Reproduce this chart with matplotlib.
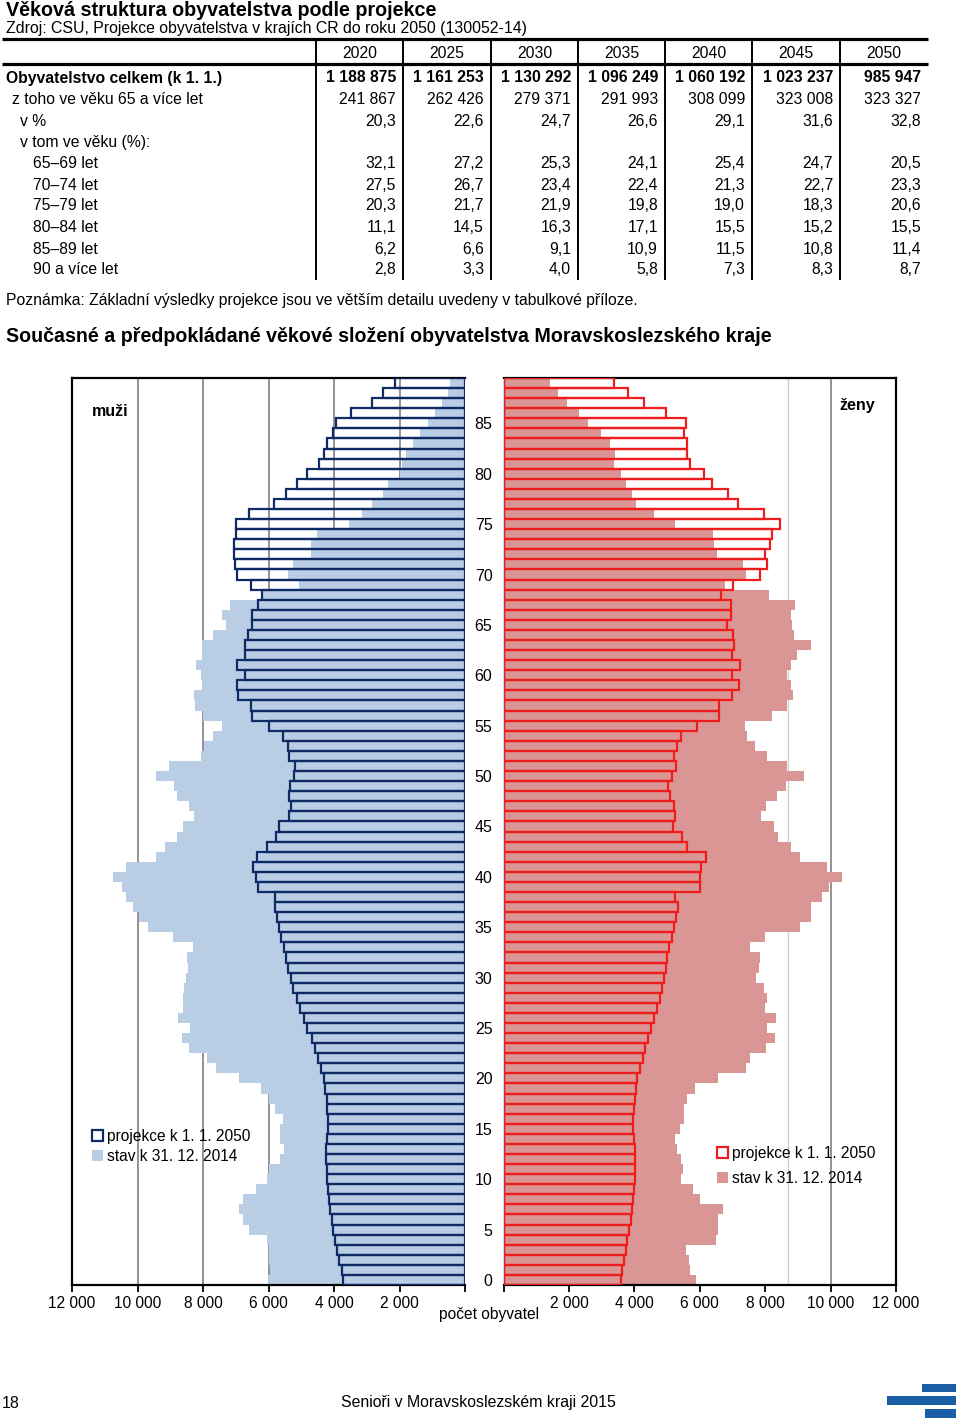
import matplotlib.pyplot as plt
from matplotlib.patches import Patch

plt.rcParams['font.family'] = ['Liberation Sans', 'DejaVu Sans']

# --- tabulka: projekce obyvatelstva ---
years = [2020, 2025, 2030, 2035, 2040, 2045, 2050]
pop_total = [1188875, 1161253, 1130292, 1096249, 1060192, 1023237, 985947]
pop_65plus = [241867, 262426, 279371, 291993, 308099, 323008, 323327]
share_65plus = [20.3, 22.6, 24.7, 26.6, 29.1, 31.6, 32.8]
group_labels = ['65–69 let', '70–74 let', '75–79 let', '80–84 let', '85–89 let', '90 a více let']
group_shares = [
    [32.1, 27.2, 25.3, 24.1, 25.4, 24.7, 20.5],
    [27.5, 26.7, 23.4, 22.4, 21.3, 22.7, 23.3],
    [20.3, 21.7, 21.9, 19.8, 19.0, 18.3, 20.6],
    [11.1, 14.5, 16.3, 17.1, 15.5, 15.2, 15.5],
    [6.2, 6.6, 9.1, 10.9, 11.5, 10.8, 11.4],
    [2.8, 3.3, 4.0, 5.8, 7.3, 8.3, 8.7],
]

# --- pyramida: počet obyvatel podle věku 0..89 ---
ages = list(range(90))
men_2014 = [6030, 5950, 6000, 6000, 6050, 6610, 6790, 6900, 6790, 6380,
            6050, 5970, 5650, 5520, 5650, 5650, 5560, 5800, 5970, 6240,
            6900, 7600, 7880, 8440, 8630, 8390, 8750, 8600, 8600, 8570,
            8530, 8460, 8490, 8310, 8920, 9690, 9940, 10140, 10360, 10480,
            10750, 10360, 9430, 9150, 8800, 8600, 8270, 8420, 8780, 8900,
            9430, 9050, 8070, 7970, 7680, 7410, 7990, 8240, 8290, 8040,
            8060, 8210, 8020, 8020, 7680, 7290, 7430, 7170, 6190, 5080,
            5410, 5260, 4710, 4710, 4530, 3540, 3130, 2850, 2510, 2340,
            2000, 1930, 1810, 1580, 1370, 1140, 920, 690, 510, 460]
men_2050 = [3710, 3760, 3840, 3900, 3960, 4020, 4070, 4120, 4160, 4190,
            4220, 4220, 4240, 4240, 4220, 4190, 4190, 4200, 4220, 4270,
            4320, 4390, 4480, 4580, 4680, 4810, 4910, 5040, 5140, 5240,
            5310, 5390, 5470, 5540, 5630, 5690, 5750, 5790, 5790, 6330,
            6390, 6480, 6360, 6050, 5770, 5680, 5380, 5310, 5370, 5350,
            5220, 5200, 5360, 5410, 5560, 6000, 6490, 6530, 6920, 6970,
            6710, 6960, 6710, 6730, 6630, 6510, 6510, 6310, 6210, 6530,
            6970, 7030, 7060, 7050, 7000, 7000, 6590, 5840, 5480, 5120,
            4810, 4450, 4300, 4220, 4020, 3940, 3490, 2830, 2490, 2130]
women_2014 = [5900, 5700, 5680, 5580, 6500, 6550, 6570, 6720, 6020, 5780,
              5420, 5480, 5440, 5300, 5240, 5400, 5520, 5520, 5610, 5850,
              6550, 7420, 7550, 8030, 8310, 8060, 8340, 8000, 8060, 7960,
              7720, 7810, 7850, 7540, 7980, 9050, 9390, 9410, 9750, 9950,
              10350, 9890, 9050, 8780, 8390, 8270, 7880, 8030, 8370, 8640,
              9180, 8680, 8050, 7690, 7450, 7390, 8200, 8680, 8850, 8800,
              8680, 8780, 8970, 9390, 8880, 8830, 8800, 8900, 8110, 6770,
              7400, 7320, 6530, 6450, 6390, 5250, 4600, 4060, 3920, 3760,
              3600, 3380, 3400, 3250, 2970, 2590, 2300, 1940, 1670, 1430]
women_2050 = [3600, 3630, 3680, 3730, 3790, 3850, 3890, 3930, 3960, 3990,
              4020, 4020, 4020, 4010, 3990, 3970, 3970, 3990, 4020, 4050,
              4090, 4170, 4250, 4340, 4430, 4520, 4600, 4690, 4780, 4840,
              4910, 4960, 5010, 5070, 5140, 5200, 5270, 5350, 5240, 6020,
              6020, 6040, 6190, 5610, 5470, 5180, 5250, 5200, 5090, 5040,
              5160, 5260, 5220, 5290, 5420, 5930, 6600, 6600, 6980, 7210,
              6980, 7240, 6980, 7060, 7030, 6830, 6960, 6960, 6650, 7010,
              7850, 8050, 8000, 8150, 8210, 8440, 7960, 7160, 6850, 6370,
              6140, 5700, 5610, 5610, 5520, 5580, 4960, 4300, 3810, 3380]

x_ticks = [0, 2000, 4000, 6000, 8000, 10000, 12000]
age_ticks = list(range(0, 90, 5))

BLUE_FILL = '#b9cde5'
NAVY = '#0f2b66'
PINK_FILL = '#d99694'
RED = '#ee1c1c'
W, H = 960, 1419
DY = 2  # posun textu dolů (va='center' počítá i s dotahy)


def fmt_int(v):
    return f'{v:,}'.replace(',', ' ')


def fmt_dec(v):
    return f'{v:.1f}'.replace('.', ',')


def fig_box(x0, y0, x1, y1):
    """pixelové souřadnice (shora) -> rect pro add_axes"""
    return [x0 / W, 1 - y1 / H, (x1 - x0) / W, (y1 - y0) / H]


fig = plt.figure(figsize=(W / 100, H / 100), dpi=100)
page = fig.add_axes([0, 0, 1, 1])
page.set_xlim(0, W)
page.set_ylim(H, 0)
page.axis('off')

# nadpis a zdroj
page.text(6, 9 + DY, 'Věková struktura obyvatelstva podle projekce', fontsize=14.2,
          fontweight='bold', va='center')
page.text(6, 27 + DY, 'Zdroj: CSU, Projekce obyvatelstva v krajích CR do roku 2050 (130052-14)',
          fontsize=11.45, va='center')

# tabulka
col_edges = [316, 403, 491, 578, 665, 752, 840, 928]
page.plot([2, 928], [39, 39], color='black', lw=2.3, solid_capstyle='butt')
page.plot([2, 928], [64, 64], color='black', lw=2.3, solid_capstyle='butt')
for x in col_edges[:-1]:
    page.plot([x, x], [40, 279], color='black', lw=1.4)
for i, yr in enumerate(years):
    page.text((col_edges[i] + col_edges[i + 1]) / 2, 52 + DY, str(yr), fontsize=11.3,
              ha='center', va='center')

rows = [('Obyvatelstvo celkem (k 1. 1.)', 6, [fmt_int(v) for v in pop_total], 'bold'),
        ('z toho ve věku 65 a více let', 12, [fmt_int(v) for v in pop_65plus], 'normal'),
        ('v %', 20, [fmt_dec(v) for v in share_65plus], 'normal'),
        ('v tom ve věku (%):', 20, [''] * len(years), 'normal')]
for lab, vals in zip(group_labels, group_shares):
    rows.append((lab, 33, [fmt_dec(v) for v in vals], 'normal'))

row_y = [76, 97, 119, 140, 161, 183, 204, 225, 247, 268]
for (label, indent, cells, weight), y in zip(rows, row_y):
    page.text(indent, y + DY, label, fontsize=11.3, fontweight=weight, va='center')
    for i, c in enumerate(cells):
        page.text(col_edges[i + 1] - 7, y + DY, c, fontsize=11.3, fontweight=weight,
                  ha='right', va='center')

page.text(6, 299 + DY, 'Poznámka: Základní výsledky projekce jsou ve větším detailu uvedeny v tabulkové příloze.',
          fontsize=11.3, va='center')
page.text(6, 335 + DY, 'Současné a předpokládané věkové složení obyvatelstva Moravskoslezského kraje',
          fontsize=14.15, fontweight='bold', va='center')

# pyramida - muži
ax_l = fig.add_axes(fig_box(72, 378, 465, 1285))
ax_r = fig.add_axes(fig_box(503.5, 378, 896, 1285))
for ax in (ax_l, ax_r):
    ax.set_facecolor('none')
    ax.set_ylim(-0.5, 89.5)
    ax.set_xlim(0, 12000)
    ax.set_xticks(x_ticks)
    ax.set_xticklabels([fmt_int(v) if v else '' for v in x_ticks], fontsize=11.2)
    ax.tick_params(axis='x', direction='out', length=5, width=1.3, pad=3)
    for s in ax.spines.values():
        s.set_linewidth(1.6)
        s.set_color('black')

ax_l.invert_xaxis()
for v in x_ticks[1:-1]:
    ax_l.axvline(v, color='#808080', lw=1.2, zorder=1)
ax_l.barh(ages, men_2014, height=1.0, color=BLUE_FILL, zorder=2)
ax_l.barh(ages, men_2050, height=1.0, facecolor='none', edgecolor=NAVY, lw=1.6, zorder=3)
ax_l.spines['right'].set_visible(False)
ax_l.set_yticks([])
ax_l.text(0.05, 0.963, 'muži', transform=ax_l.transAxes, fontsize=11.5,
          fontweight='bold', va='center')

# pyramida - ženy
ax_r.axvline(10000, color='#808080', lw=1.2, zorder=1)
ax_r.axvline(8700, color='#d0d0d0', lw=1.0, zorder=1)
ax_r.barh(ages, women_2014, height=1.0, color=PINK_FILL, zorder=2)
ax_r.barh(ages, women_2050, height=1.0, facecolor='none', edgecolor=RED, lw=1.6, zorder=3)
ax_r.spines['left'].set_linewidth(1.0)
ax_r.spines['left'].set_color('#404040')
ax_r.set_yticks(age_ticks)
ax_r.set_yticklabels([str(a) for a in age_ticks], fontsize=11.5)
ax_r.tick_params(axis='y', length=0, pad=8)
ax_r.text(0.855, 0.970, 'ženy', transform=ax_r.transAxes, fontsize=11.5,
          fontweight='bold', va='center')

leg_l = ax_l.legend([Patch(facecolor='white', edgecolor=NAVY, lw=1.6), Patch(facecolor=BLUE_FILL)],
                    ['projekce k 1. 1. 2050', 'stav k 31. 12. 2014'],
                    loc='upper left', bbox_to_anchor=(92 / W, 1 - 1129 / H),
                    bbox_transform=fig.transFigure, frameon=False, fontsize=11.2,
                    borderpad=0, borderaxespad=0, handlelength=0.7, handleheight=0.7,
                    handletextpad=0.25, labelspacing=0.3)
leg_r = ax_r.legend([Patch(facecolor='white', edgecolor=RED, lw=1.6), Patch(facecolor=PINK_FILL)],
                    ['projekce k 1. 1. 2050', 'stav k 31. 12. 2014'],
                    loc='upper left', bbox_to_anchor=(717 / W, 1 - 1146 / H),
                    bbox_transform=fig.transFigure, frameon=False, fontsize=11.2,
                    borderpad=0, borderaxespad=0, handlelength=0.7, handleheight=0.7,
                    handletextpad=0.25, labelspacing=0.65)

page.text(489, 1312 + DY, 'počet obyvatel', fontsize=11.2, ha='center', va='center')

# zápatí
page.text(2, 1401 + DY, '18', fontsize=11.4, va='center')
page.text(478, 1401 + DY, 'Senioři v Moravskoslezském kraji 2015', fontsize=11.4,
          ha='center', va='center')
for x0, y0, x1, y1 in [(922, 1384, 956, 1392), (887, 1396, 956, 1405), (925, 1409, 956, 1418)]:
    page.add_patch(plt.Rectangle((x0, y0), x1 - x0, y1 - y0, color='#1a5fa6', lw=0))

fig.savefig('out.png', dpi=100)
